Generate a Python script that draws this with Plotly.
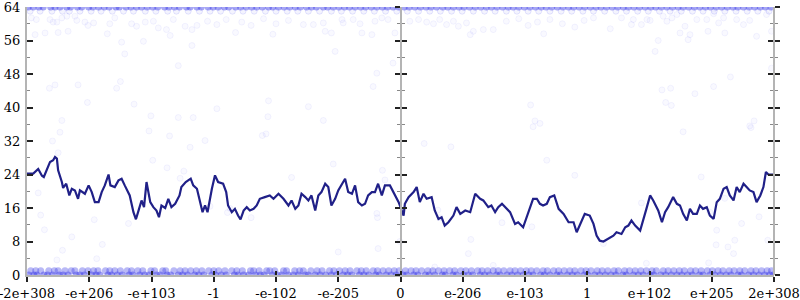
import plotly.graph_objects as go

# ---------------- data ----------------
tick_pos = [0, 100, 200, 300, 400, 500, 600, 700, 800, 900, 1000, 1100, 1200]
tick_text = ["-2e+308", "-e+206", "-e+103", "-1", "-e-102", "-e-205", "0",
             "e-206", "e-103", "1", "e+102", "e+205", "2e+308"]
y_ticks = [0, 8, 16, 24, 32, 40, 48, 56, 64]

line_x = [0, 10, 18, 24, 27, 32, 37, 42, 45, 48, 50, 56, 58, 63, 68, 72, 77, 82, 85, 93,
          99, 104, 109, 115, 120, 125, 131, 134, 141, 147, 152, 157, 165, 171, 175, 180, 184, 188,
          192, 198, 203, 208, 212, 216, 222, 227, 232, 238, 245, 248, 255, 263, 267, 273, 278, 282,
          286, 290, 297, 302, 307, 315, 320, 323, 329, 334, 339, 343, 348, 353, 358, 364, 369, 374,
          382, 390, 396, 404, 412, 420, 425, 431, 436, 441, 447, 452, 457, 463, 468, 473, 479, 484,
          489, 495, 500, 506, 511, 516, 522, 527, 532, 538, 543, 548, 554, 559, 564, 570, 575, 583,
          591, 597, 605, 607, 613, 621, 626, 631, 637, 642, 650, 655, 661, 666, 671, 677, 685, 690,
          696, 704, 712, 720, 728, 733, 741, 746, 752, 757, 763, 768, 776, 784, 789, 797, 805, 813,
          819, 824, 829, 835, 840, 847, 854, 862, 870, 878, 883, 888, 896, 904, 910, 915, 920, 926,
          934, 942, 947, 955, 961, 966, 971, 977, 985, 990, 995, 1001, 1006, 1014, 1020, 1025, 1030,
          1038, 1044, 1049, 1054, 1060, 1065, 1070, 1076, 1081, 1086, 1092, 1097, 1103, 1108, 1113,
          1119, 1124, 1129, 1135, 1140, 1145, 1151, 1156, 1161, 1167, 1172, 1178, 1183, 1187, 1191,
          1200]
line_y = [24.2, 24.2, 25.3, 23.7, 23.4, 25.3, 27.0, 27.4, 28.2, 27.8, 25.0, 22.2, 20.8, 21.8,
          19.0, 20.6, 20.2, 18.2, 20.2, 19.4, 21.4, 19.8, 17.4, 17.4, 19.8, 21.4, 24.0, 21.4, 21.0,
          22.6, 23.0, 21.4, 19.0, 15.0, 13.3, 15.8, 17.8, 16.2, 22.2, 17.4, 16.2, 15.4, 13.8, 16.6,
          16.0, 18.2, 16.2, 17.0, 19.0, 21.0, 22.2, 23.0, 21.4, 20.6, 17.0, 15.0, 16.6, 15.0, 20.6,
          23.8, 22.2, 21.8, 19.8, 16.6, 15.0, 15.8, 14.2, 13.3, 15.4, 16.2, 15.4, 15.8, 16.6, 18.2,
          18.6, 19.0, 18.2, 19.4, 18.2, 16.6, 17.8, 15.8, 16.6, 19.4, 18.6, 17.8, 19.0, 15.4, 19.0,
          19.8, 21.8, 21.0, 16.6, 18.2, 20.2, 21.8, 23.0, 19.8, 19.4, 21.4, 17.4, 16.6, 17.0, 19.0,
          19.8, 19.8, 21.8, 19.0, 21.4, 21.4, 19.0, 17.4, 14.2, 17.0, 18.6, 19.8, 21.0, 17.4, 19.4,
          18.2, 18.6, 15.4, 13.4, 13.8, 11.8, 12.6, 14.2, 16.2, 14.6, 15.4, 15.0, 19.4, 18.2, 17.8,
          16.2, 16.6, 15.0, 16.2, 17.0, 16.2, 15.0, 12.2, 12.6, 11.4, 15.0, 18.2, 18.2, 17.0, 16.6,
          17.0, 18.6, 19.0, 15.8, 14.6, 12.6, 12.6, 10.2, 11.8, 14.6, 14.2, 12.2, 9.4, 8.2, 8.0,
          8.8, 9.4, 10.2, 9.8, 11.4, 11.8, 13.0, 11.8, 10.6, 13.0, 15.8, 19.0, 17.8, 15.4, 12.6,
          15.0, 16.2, 18.6, 17.0, 16.6, 14.6, 13.0, 15.8, 14.6, 14.6, 16.6, 15.8, 16.2, 14.2, 13.4,
          17.4, 18.2, 20.6, 21.0, 19.0, 17.8, 21.0, 19.8, 21.8, 21.0, 20.2, 19.8, 17.4, 19.0, 21.0,
          24.6, 24.0, 24.0]

band0_x = [3, 11, 16, 27, 33, 41, 52, 58, 66, 79, 85, 92, 104, 111, 117, 130, 136, 145, 153, 164,
           170, 181, 189, 196, 208, 214, 225, 231, 243, 250, 258, 269, 276, 284, 297, 303, 312, 320,
           333, 339, 348, 356, 367, 375, 381, 394, 402, 409, 420, 428, 436, 447, 452, 463, 471, 480,
           489, 497, 508, 515, 522, 534, 541, 549, 560, 566, 577, 585, 593, 604, 610, 621, 628, 640,
           646, 655, 667, 672, 684, 690, 701, 709, 716, 728, 735, 743, 754, 760, 771, 779, 788, 797,
           806, 813, 825, 831, 840, 851, 857, 868, 876, 884, 895, 901, 912, 920, 929, 938, 946, 957,
           963, 974, 982, 990, 1001, 1007, 1018, 1026, 1035, 1044, 1052, 1061, 1069, 1080, 1086,
           1097, 1105, 1114, 1123, 1131, 1142, 1148, 1159, 1167, 1176, 1185, 1193, 1199]
band1_x = [6, 14, 22, 35, 44, 50, 61, 71, 77, 89, 98, 107, 114, 126, 133, 141, 150, 161, 168, 178,
           186, 199, 205, 218, 223, 236, 246, 254, 263, 272, 281, 292, 300, 308, 318, 329, 337, 346,
           359, 364, 373, 385, 390, 398, 412, 417, 430, 438, 444, 456, 466, 474, 486, 493, 502, 511,
           519, 530, 537, 545, 556, 563, 572, 581, 590, 598, 608, 617, 625, 634, 644, 652, 661, 670,
           679, 687, 697, 705, 714, 724, 731, 740, 749, 757, 766, 776, 784, 793, 802, 810, 819, 829,
           836, 846, 854, 863, 872, 880, 890, 898, 906, 916, 924, 933, 943, 950, 960, 968, 977, 986,
           995, 1004, 1011, 1022, 1030, 1039, 1048, 1056, 1066, 1074, 1083, 1093, 1101, 1110, 1118,
           1128, 1136, 1145, 1153, 1163, 1171, 1180, 1189, 1196]
band64_x = [2, 10, 19, 26, 38, 45, 53, 64, 70, 81, 88, 99, 106, 115, 124, 132, 143, 148, 159, 167,
            176, 184, 193, 202, 210, 221, 228, 237, 245, 256, 262, 273, 280, 291, 299, 307, 317, 324,
            335, 343, 352, 361, 369, 378, 388, 395, 404, 413, 422, 431, 439, 449, 457, 465, 476, 483,
            492, 501, 510, 518, 527, 536, 544, 553, 562, 571, 579, 588, 597, 606, 614, 623, 632, 641,
            649, 658, 668, 676, 685, 694, 702, 711, 720, 729, 738, 746, 755, 764, 773, 781, 790, 799,
            808, 817, 826, 834, 843, 852, 861, 870, 878, 887, 896, 905, 914, 922, 931, 940, 949, 958,
            966, 975, 984, 993, 1002, 1010, 1019, 1028, 1037, 1046, 1054, 1063, 1072, 1081, 1090,
            1098, 1107, 1116, 1125, 1134, 1142, 1151, 1160, 1169, 1178, 1186, 1195]
band63_x = [5, 21, 40, 57, 68, 85, 103, 119, 137, 155, 171, 190, 207, 226, 240, 259, 277, 294, 311,
            330, 347, 365, 383, 400, 418, 435, 452, 470, 489, 505, 523, 541, 558, 576, 594, 611, 629,
            647, 664, 682, 699, 717, 735, 752, 770, 787, 805, 822, 840, 858, 875, 893, 910, 928, 946,
            963, 981, 998, 1016, 1033, 1051, 1069, 1086, 1104, 1121, 1139, 1157, 1174, 1192]

scatter_x = [7, 15, 37, 42, 48, 56, 64, 77, 80, 93, 98, 107, 133, 141, 152, 157, 168, 176, 190, 187,
             203, 211, 224, 235, 230, 243, 254, 265, 265, 273, 13, 29, 50, 66, 129, 36, 45, 82, 144,
             150, 444, 460, 476, 479, 489, 506, 508, 524, 535, 538, 554, 559, 570, 580, 591, 588, 495,
             562, 556, 615, 629, 642, 653, 663, 674, 685, 693, 706, 717, 733, 749, 712, 937, 955, 971,
             974, 987, 996, 1001, 1014, 1009, 1022, 1028, 1036, 1044, 1049, 1057, 1062, 1065, 1076,
             1092, 1094, 1103, 1111, 1119, 1121, 1130, 1140, 1151, 1161, 1172, 1188, 1196, 1196, 1020,
             1034, 1073, 1103, 290, 305, 320, 345, 360, 380, 400, 420, 335, 395, 770, 790, 805, 820,
             840, 860, 880, 895, 910, 830,
             22, 28, 48, 57, 72, 108, 112, 121, 163, 500, 564, 563, 709, 655, 749, 995, 1095, 1107,
             1126, 1137, 1135, 1148, 97, 56, 53, 41, 50, 18, 172, 199, 196, 229, 243, 267, 202, 225,
             252, 246, 262, 326, 388, 452, 387, 476, 378, 286, 492, 571, 575, 305, 384, 562, 322,
             663, 660, 809, 824, 816, 813, 638, 835, 880, 1097, 1176, 1026, 1035, 1161, 1163, 1168,
             1054, 1083, 1121, 987, 294, 360, 425, 599, 713, 681, 763, 811, 926, 1190, 1108]
scatter_y = [61.4, 61.0, 61.0, 60.4, 60.4, 61.4, 61.8, 61.8, 60.8, 60.4, 59.6, 60.2, 60.0, 61.4,
             55.6, 52.8, 60.0, 59.4, 60.4, 55.8, 60.6, 59.0, 58.6, 61.0, 57.2, 50.0, 59.4, 58.6, 54.8,
             59.6, 57.4, 57.8, 57.9, 58.2, 57.6, 44.6, 45.4, 45.4, 44.6, 46.2, 59.8, 59.8, 60.2, 58.2,
             57.8, 61.0, 60.2, 61.0, 60.0, 57.8, 57.4, 60.6, 61.4, 61.0, 57.8, 50.6, 53.4, 48.2, 45.0,
             60.6, 61.0, 60.4, 60.0, 61.0, 59.8, 60.6, 59.4, 60.2, 58.2, 58.6, 58.6, 57.4, 58.8, 61.4,
             59.8, 61.0, 59.8, 61.0, 60.8, 56.0, 53.4, 61.8, 60.6, 61.4, 62.2, 57.8, 59.4, 56.2, 57.4,
             61.0, 61.0, 58.2, 62.4, 60.2, 61.4, 57.8, 47.3, 61.0, 59.8, 60.8, 57.0, 62.2, 58.2, 49.4,
             44.2, 44.6, 43.3, 45.0, 60.6, 59.8, 61.0, 60.4, 59.6, 61.2, 60.0, 60.8, 57.9, 57.5, 60.6,
             61.2, 59.6, 60.4, 61.0, 60.0, 59.2, 60.8, 61.4, 57.6,
             14.3, 10.8, 3.6, 5.9, 9.1, 13.2, 3.9, 7.3, 12.3, 5.5, 6.3, 13.7, 5.1, 1.9, 2.3, 2.8, 2.9,
             7.2, 6.7, 8.3, 5.1, 12.3, 41.2, 36.9, 34.1, 32.0, 29.2, 19.6, 40.8, 38.0, 34.4, 33.2,
             37.6, 37.6, 27.4, 25.6, 24.8, 23.1, 30.5, 15.9, 41.6, 40.2, 37.8, 36.9, 33.3, 32.1, 26.5,
             25.0, 22.7, 39.7, 33.7, 14.7, 14.9, 13.7, 15.5, 40.6, 36.2, 36.8, 35.4, 31.4, 27.4, 23.8,
             15.0, 13.9, 41.2, 40.5, 35.6, 35.2, 36.8, 34.2, 23.4, 18.3, 17.2, 16.4, 13.7, 23.3, 8.0,
             8.5, 30.6, 12.5, 11.5, 7.5, 8.3, 10.7, 10.7, 7.5]

# ---------------- figure ----------------
FONT = "DejaVu Serif"


def ring(alpha_fill, alpha_edge, size=6):
    return dict(size=size, color="rgba(60,60,240,%s)" % alpha_fill,
                line=dict(color="rgba(60,60,240,%s)" % alpha_edge, width=1))


def blob(alpha, size=7):
    return dict(size=size, color="rgba(60,60,230,%s)" % alpha, line=dict(width=0))


fig = go.Figure()
band_specs = [(band0_x, 0, blob(0.45)), (band1_x, 1, blob(0.36)),
              (band64_x, 64, blob(0.45)), (band63_x, 63, ring(0.06, 0.12))]
for xs, yv, m in band_specs:
    fig.add_trace(go.Scatter(x=xs, y=[yv] * len(xs), mode="markers", marker=m,
                             hoverinfo="skip", showlegend=False))
fig.add_trace(go.Scatter(x=scatter_x, y=scatter_y, mode="markers", marker=ring(0.03, 0.06),
                         hoverinfo="skip", showlegend=False))
fig.add_trace(go.Scatter(x=line_x, y=line_y, mode="lines",
                         line=dict(color="rgb(32,32,136)", width=2.2), showlegend=False))

axis_gray = "#b4b4b4"
tick_dark = "#222222"
common_y = dict(range=[0, 64], tickvals=y_ticks, showgrid=False, zeroline=False,
                showline=True, linecolor=axis_gray, linewidth=2, automargin=False,
                tickcolor=tick_dark, tickwidth=1.5)
minor = dict(dtick=4, ticklen=3, tickcolor="#888888", tickwidth=1)

fig.update_layout(
    width=800, height=300,
    margin=dict(l=27, r=26, t=7, b=25),
    plot_bgcolor="white", paper_bgcolor="white",
    font=dict(family=FONT, size=13, color="black"),
    xaxis=dict(range=[0, 1200], tickvals=tick_pos, ticktext=tick_text, showgrid=False,
               zeroline=False, showline=True, linecolor=axis_gray, linewidth=2, automargin=False,
               ticks="outside", ticklen=5, tickcolor=tick_dark, tickwidth=1.5,
               ticklabeloverflow="allow", tickfont=dict(family=FONT, size=13)),
    xaxis2=dict(range=[0, 1200], tickvals=tick_pos, overlaying="x", anchor="y", side="bottom",
                showgrid=False, zeroline=False, showticklabels=False, automargin=False,
                ticks="inside", ticklen=4, tickcolor=tick_dark, tickwidth=1.5),
    yaxis=dict(**common_y, ticks="inside", ticklen=6, minor=dict(ticks="inside", **minor),
               ticklabeloverflow="allow", tickfont=dict(family=FONT, size=13),
               ticklabelstandoff=2),
    yaxis2=dict(**common_y, overlaying="y", anchor="free", position=0.5, side="left",
                ticks="outside", ticklen=5, showticklabels=False,
                minor=dict(ticks="outside", **minor)),
    yaxis3=dict(**common_y, overlaying="y", anchor="free", position=0.5, side="left",
                ticks="inside", ticklen=5, showticklabels=False,
                minor=dict(ticks="inside", **minor)),
    yaxis4=dict(**common_y, overlaying="y", anchor="free", position=1.0, side="right",
                ticks="outside", ticklen=5, showticklabels=False,
                minor=dict(ticks="outside", **minor)),
    yaxis5=dict(**common_y, overlaying="y", anchor="free", position=1.0, side="right",
                ticks="inside", ticklen=5, showticklabels=False,
                minor=dict(ticks="inside", **minor)),
)
# attach empty traces so overlay axes render
for ya in ["y2", "y3", "y4", "y5"]:
    fig.add_trace(go.Scatter(x=[None], y=[None], yaxis=ya, mode="markers",
                             showlegend=False, hoverinfo="skip"))
fig.add_trace(go.Scatter(x=[None], y=[None], xaxis="x2", mode="markers",
                         showlegend=False, hoverinfo="skip"))

fig.write_html("out.html")
